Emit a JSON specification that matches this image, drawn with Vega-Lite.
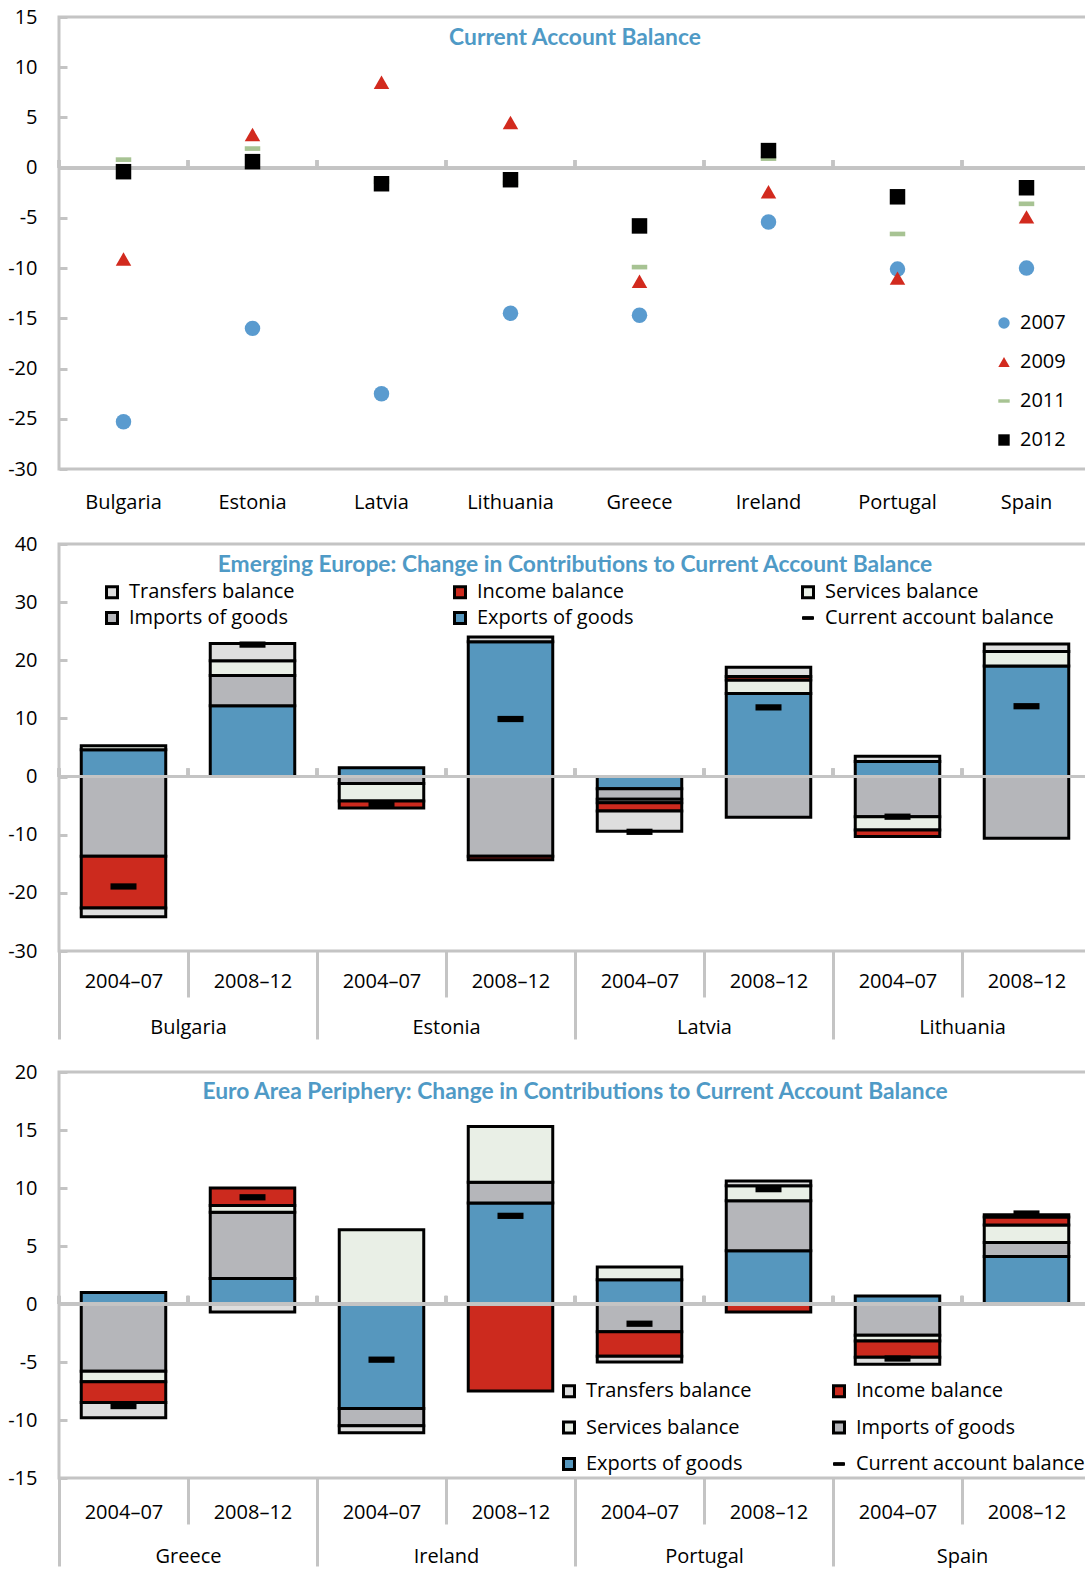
{
  "$schema": "https://vega.github.io/schema/vega-lite/v6.json",
  "padding": {"left": 6, "top": 5, "right": 0, "bottom": 0},
  "spacing": 18,
  "datasets": {
    "balance": [
      {"country": "Bulgaria", "year": "2007", "value": -25.3},
      {"country": "Estonia", "year": "2007", "value": -16.0},
      {"country": "Latvia", "year": "2007", "value": -22.5},
      {"country": "Lithuania", "year": "2007", "value": -14.5},
      {"country": "Greece", "year": "2007", "value": -14.7},
      {"country": "Ireland", "year": "2007", "value": -5.4},
      {"country": "Portugal", "year": "2007", "value": -10.1},
      {"country": "Spain", "year": "2007", "value": -10.0},
      {"country": "Bulgaria", "year": "2009", "value": -9.1},
      {"country": "Estonia", "year": "2009", "value": 3.3},
      {"country": "Latvia", "year": "2009", "value": 8.5},
      {"country": "Lithuania", "year": "2009", "value": 4.5},
      {"country": "Greece", "year": "2009", "value": -11.3},
      {"country": "Ireland", "year": "2009", "value": -2.4},
      {"country": "Portugal", "year": "2009", "value": -11.0},
      {"country": "Spain", "year": "2009", "value": -4.9},
      {"country": "Bulgaria", "year": "2011", "value": 0.8},
      {"country": "Estonia", "year": "2011", "value": 1.9},
      {"country": "Latvia", "year": "2011", "value": -1.4},
      {"country": "Lithuania", "year": "2011", "value": -1.5},
      {"country": "Greece", "year": "2011", "value": -9.9},
      {"country": "Ireland", "year": "2011", "value": 0.9},
      {"country": "Portugal", "year": "2011", "value": -6.6},
      {"country": "Spain", "year": "2011", "value": -3.6},
      {"country": "Bulgaria", "year": "2012", "value": -0.4},
      {"country": "Estonia", "year": "2012", "value": 0.6},
      {"country": "Latvia", "year": "2012", "value": -1.6},
      {"country": "Lithuania", "year": "2012", "value": -1.2},
      {"country": "Greece", "year": "2012", "value": -5.8},
      {"country": "Ireland", "year": "2012", "value": 1.7},
      {"country": "Portugal", "year": "2012", "value": -2.9},
      {"country": "Spain", "year": "2012", "value": -2.0}
    ],
    "emerging": [
      {"bar": "Bulgaria 2004–07", "country": "Bulgaria", "component": "Exports of goods", "value": 4.6},
      {"bar": "Bulgaria 2004–07", "country": "Bulgaria", "component": "Imports of goods", "value": -13.7},
      {"bar": "Bulgaria 2004–07", "country": "Bulgaria", "component": "Services balance", "value": 0.7},
      {"bar": "Bulgaria 2004–07", "country": "Bulgaria", "component": "Income balance", "value": -8.9},
      {"bar": "Bulgaria 2004–07", "country": "Bulgaria", "component": "Transfers balance", "value": -1.5},
      {"bar": "Bulgaria 2004–07", "country": "Bulgaria", "component": "Current account balance", "value": -18.9},
      {"bar": "Bulgaria 2008–12", "country": "Bulgaria", "component": "Exports of goods", "value": 12.2},
      {"bar": "Bulgaria 2008–12", "country": "Bulgaria", "component": "Imports of goods", "value": 5.2},
      {"bar": "Bulgaria 2008–12", "country": "Bulgaria", "component": "Services balance", "value": 2.5},
      {"bar": "Bulgaria 2008–12", "country": "Bulgaria", "component": "Transfers balance", "value": 3.0},
      {"bar": "Bulgaria 2008–12", "country": "Bulgaria", "component": "Current account balance", "value": 22.7},
      {"bar": "Estonia 2004–07", "country": "Estonia", "component": "Exports of goods", "value": 1.5},
      {"bar": "Estonia 2004–07", "country": "Estonia", "component": "Imports of goods", "value": -1.2},
      {"bar": "Estonia 2004–07", "country": "Estonia", "component": "Services balance", "value": -3.0},
      {"bar": "Estonia 2004–07", "country": "Estonia", "component": "Income balance", "value": -1.2},
      {"bar": "Estonia 2004–07", "country": "Estonia", "component": "Current account balance", "value": -4.8},
      {"bar": "Estonia 2008–12", "country": "Estonia", "component": "Exports of goods", "value": 23.2},
      {"bar": "Estonia 2008–12", "country": "Estonia", "component": "Imports of goods", "value": -13.7},
      {"bar": "Estonia 2008–12", "country": "Estonia", "component": "Income balance", "value": -0.6},
      {"bar": "Estonia 2008–12", "country": "Estonia", "component": "Transfers balance", "value": 0.8},
      {"bar": "Estonia 2008–12", "country": "Estonia", "component": "Current account balance", "value": 9.9},
      {"bar": "Latvia 2004–07", "country": "Latvia", "component": "Exports of goods", "value": -2.1},
      {"bar": "Latvia 2004–07", "country": "Latvia", "component": "Imports of goods", "value": -1.8},
      {"bar": "Latvia 2004–07", "country": "Latvia", "component": "Services balance", "value": -0.6},
      {"bar": "Latvia 2004–07", "country": "Latvia", "component": "Income balance", "value": -1.4},
      {"bar": "Latvia 2004–07", "country": "Latvia", "component": "Transfers balance", "value": -3.5},
      {"bar": "Latvia 2004–07", "country": "Latvia", "component": "Current account balance", "value": -9.5},
      {"bar": "Latvia 2008–12", "country": "Latvia", "component": "Exports of goods", "value": 14.3},
      {"bar": "Latvia 2008–12", "country": "Latvia", "component": "Imports of goods", "value": -7.0},
      {"bar": "Latvia 2008–12", "country": "Latvia", "component": "Services balance", "value": 2.3},
      {"bar": "Latvia 2008–12", "country": "Latvia", "component": "Income balance", "value": 0.6},
      {"bar": "Latvia 2008–12", "country": "Latvia", "component": "Transfers balance", "value": 1.6},
      {"bar": "Latvia 2008–12", "country": "Latvia", "component": "Current account balance", "value": 11.9},
      {"bar": "Lithuania 2004–07", "country": "Lithuania", "component": "Exports of goods", "value": 2.6},
      {"bar": "Lithuania 2004–07", "country": "Lithuania", "component": "Imports of goods", "value": -6.9},
      {"bar": "Lithuania 2004–07", "country": "Lithuania", "component": "Services balance", "value": -2.3},
      {"bar": "Lithuania 2004–07", "country": "Lithuania", "component": "Income balance", "value": -1.1},
      {"bar": "Lithuania 2004–07", "country": "Lithuania", "component": "Transfers balance", "value": 0.9},
      {"bar": "Lithuania 2004–07", "country": "Lithuania", "component": "Current account balance", "value": -6.9},
      {"bar": "Lithuania 2008–12", "country": "Lithuania", "component": "Exports of goods", "value": 19.0},
      {"bar": "Lithuania 2008–12", "country": "Lithuania", "component": "Imports of goods", "value": -10.6},
      {"bar": "Lithuania 2008–12", "country": "Lithuania", "component": "Services balance", "value": 2.5},
      {"bar": "Lithuania 2008–12", "country": "Lithuania", "component": "Transfers balance", "value": 1.3},
      {"bar": "Lithuania 2008–12", "country": "Lithuania", "component": "Current account balance", "value": 12.1}
    ],
    "periphery": [
      {"bar": "Greece 2004–07", "country": "Greece", "component": "Exports of goods", "value": 1.0},
      {"bar": "Greece 2004–07", "country": "Greece", "component": "Imports of goods", "value": -5.8},
      {"bar": "Greece 2004–07", "country": "Greece", "component": "Services balance", "value": -0.9},
      {"bar": "Greece 2004–07", "country": "Greece", "component": "Income balance", "value": -1.8},
      {"bar": "Greece 2004–07", "country": "Greece", "component": "Transfers balance", "value": -1.3},
      {"bar": "Greece 2004–07", "country": "Greece", "component": "Current account balance", "value": -8.8},
      {"bar": "Greece 2008–12", "country": "Greece", "component": "Exports of goods", "value": 2.2},
      {"bar": "Greece 2008–12", "country": "Greece", "component": "Imports of goods", "value": 5.7},
      {"bar": "Greece 2008–12", "country": "Greece", "component": "Services balance", "value": 0.6},
      {"bar": "Greece 2008–12", "country": "Greece", "component": "Income balance", "value": 1.5},
      {"bar": "Greece 2008–12", "country": "Greece", "component": "Transfers balance", "value": -0.7},
      {"bar": "Greece 2008–12", "country": "Greece", "component": "Current account balance", "value": 9.2},
      {"bar": "Ireland 2004–07", "country": "Ireland", "component": "Exports of goods", "value": -9.0},
      {"bar": "Ireland 2004–07", "country": "Ireland", "component": "Imports of goods", "value": -1.5},
      {"bar": "Ireland 2004–07", "country": "Ireland", "component": "Services balance", "value": 6.4},
      {"bar": "Ireland 2004–07", "country": "Ireland", "component": "Transfers balance", "value": -0.6},
      {"bar": "Ireland 2004–07", "country": "Ireland", "component": "Current account balance", "value": -4.8},
      {"bar": "Ireland 2008–12", "country": "Ireland", "component": "Exports of goods", "value": 8.7},
      {"bar": "Ireland 2008–12", "country": "Ireland", "component": "Imports of goods", "value": 1.8},
      {"bar": "Ireland 2008–12", "country": "Ireland", "component": "Services balance", "value": 4.8},
      {"bar": "Ireland 2008–12", "country": "Ireland", "component": "Income balance", "value": -7.5},
      {"bar": "Ireland 2008–12", "country": "Ireland", "component": "Current account balance", "value": 7.6},
      {"bar": "Portugal 2004–07", "country": "Portugal", "component": "Exports of goods", "value": 2.1},
      {"bar": "Portugal 2004–07", "country": "Portugal", "component": "Imports of goods", "value": -2.4},
      {"bar": "Portugal 2004–07", "country": "Portugal", "component": "Services balance", "value": 1.1},
      {"bar": "Portugal 2004–07", "country": "Portugal", "component": "Income balance", "value": -2.1},
      {"bar": "Portugal 2004–07", "country": "Portugal", "component": "Transfers balance", "value": -0.5},
      {"bar": "Portugal 2004–07", "country": "Portugal", "component": "Current account balance", "value": -1.7},
      {"bar": "Portugal 2008–12", "country": "Portugal", "component": "Exports of goods", "value": 4.6},
      {"bar": "Portugal 2008–12", "country": "Portugal", "component": "Imports of goods", "value": 4.3},
      {"bar": "Portugal 2008–12", "country": "Portugal", "component": "Services balance", "value": 1.3},
      {"bar": "Portugal 2008–12", "country": "Portugal", "component": "Income balance", "value": -0.7},
      {"bar": "Portugal 2008–12", "country": "Portugal", "component": "Transfers balance", "value": 0.4},
      {"bar": "Portugal 2008–12", "country": "Portugal", "component": "Current account balance", "value": 9.9},
      {"bar": "Spain 2004–07", "country": "Spain", "component": "Exports of goods", "value": 0.7},
      {"bar": "Spain 2004–07", "country": "Spain", "component": "Imports of goods", "value": -2.7},
      {"bar": "Spain 2004–07", "country": "Spain", "component": "Services balance", "value": -0.5},
      {"bar": "Spain 2004–07", "country": "Spain", "component": "Income balance", "value": -1.4},
      {"bar": "Spain 2004–07", "country": "Spain", "component": "Transfers balance", "value": -0.6},
      {"bar": "Spain 2004–07", "country": "Spain", "component": "Current account balance", "value": -4.7},
      {"bar": "Spain 2008–12", "country": "Spain", "component": "Exports of goods", "value": 4.1},
      {"bar": "Spain 2008–12", "country": "Spain", "component": "Imports of goods", "value": 1.2},
      {"bar": "Spain 2008–12", "country": "Spain", "component": "Services balance", "value": 1.5},
      {"bar": "Spain 2008–12", "country": "Spain", "component": "Income balance", "value": 0.7},
      {"bar": "Spain 2008–12", "country": "Spain", "component": "Transfers balance", "value": 0.2},
      {"bar": "Spain 2008–12", "country": "Spain", "component": "Current account balance", "value": 7.8}
    ],
    "stackOrder": [
      {"component": "Exports of goods", "rank": 1},
      {"component": "Imports of goods", "rank": 2},
      {"component": "Services balance", "rank": 3},
      {"component": "Income balance", "rank": 4},
      {"component": "Transfers balance", "rank": 5}
    ]
  },
  "vconcat": [
    {
      "width": 1032,
      "height": 452,
      "title": {"text": "Current Account Balance", "offset": -54, "baseline": "middle"},
      "data": {"name": "balance"},
      "layer": [
        {
          "mark": {"type": "rule", "color": "#C4C4C4", "strokeWidth": 3},
          "encoding": {"y": {"datum": 0, "type": "quantitative"}}
        },
        {
          "mark": {"type": "rule", "color": "#C4C4C4", "strokeWidth": 3},
          "encoding": {
            "x": {"field": "country", "type": "nominal", "sort": null, "bandPosition": 0},
            "y": {"datum": 0, "type": "quantitative"},
            "y2": {"datum": 0.75}
          }
        },
        {
          "mark": {"type": "point", "filled": true, "opacity": 1, "size": 240, "strokeWidth": 0},
          "encoding": {
            "x": {
              "field": "country", "type": "nominal", "sort": null,
              "scale": {"type": "band", "paddingInner": 0, "paddingOuter": 0},
              "axis": {"orient": "bottom", "ticks": false, "bandPosition": 0.5, "labelAlign": "center", "labelPadding": 33, "labelAngle": 0}
            },
            "y": {
              "field": "value", "type": "quantitative",
              "scale": {"domain": [-30, 15], "nice": false, "zero": false},
              "axis": {"values": [-30, -25, -20, -15, -10, -5, 0, 5, 10, 15], "labelExpr": "datum.value + ''"}
            },
            "color": {
              "field": "year", "type": "nominal",
              "scale": {"domain": ["2007", "2009", "2011", "2012"], "range": ["#5A9BCF", "#D22A1E", "#A7C393", "#000000"]},
              "legend": {"orient": "none", "legendX": 935, "legendY": 296, "rowPadding": 19, "symbolSize": 130, "labelOffset": 6}
            },
            "shape": {
              "field": "year", "type": "nominal",
              "scale": {"domain": ["2007", "2009", "2011", "2012"], "range": ["circle", "triangle-up", "M-1,-0.3H1V0.3H-1Z", "square"]},
              "legend": {"orient": "none", "legendX": 935, "legendY": 296, "rowPadding": 19, "symbolSize": 130, "labelOffset": 6}
            }
          }
        }
      ]
    },
    {
      "width": 1032,
      "height": 407,
      "title": {"text": "Emerging Europe: Change in Contributions to Current Account Balance", "offset": -54, "baseline": "middle"},
      "data": {"name": "emerging"},
      "layer": [
        {
          "layer": [
            {
              "transform": [
                {"filter": "datum.component !== 'Current account balance'"},
                {"lookup": "component", "from": {"data": {"name": "stackOrder"}, "key": "component", "fields": ["rank"]}}
              ],
              "mark": {"type": "bar", "stroke": "#000000", "strokeWidth": 3, "width": {"band": 0.655}},
              "encoding": {
                "x": {
                  "field": "bar", "type": "nominal", "sort": null,
                  "scale": {"type": "band", "paddingInner": 0, "paddingOuter": 0},
                  "axis": {"orient": "bottom", "tickBand": "extent", "tickSize": 46, "labelPadding": -26, "labelAngle": 0, "labelExpr": "slice(datum.label, -7)"}
                },
                "y": {
                  "field": "value", "type": "quantitative", "stack": "zero",
                  "scale": {"domain": [-30, 40], "nice": false, "zero": false},
                  "axis": {"values": [-30, -20, -10, 0, 10, 20, 30, 40], "labelExpr": "datum.value + ''"}
                },
                "fill": {
                  "field": "component", "type": "nominal",
                  "scale": {
                    "domain": ["Transfers balance", "Imports of goods", "Income balance", "Exports of goods", "Services balance", "Current account balance"],
                    "range": ["#DEDEDE", "#B5B6BA", "#CC2A1E", "#5697BE", "#E9EFE6", "#000000"]
                  },
                  "legend": {"orient": "none", "legendX": 43, "legendY": 38, "columns": 3, "gridAlign": "all", "columnPadding": 90, "rowPadding": 2, "symbolSize": 121, "symbolStrokeColor": "#000000", "symbolStrokeWidth": 3, "labelOffset": 7, "encode": {"symbols": {"update": {"stroke": {"value": "#000000"}, "strokeWidth": {"signal": "datum.value === 'Current account balance' ? 1 : 3"}}}}}
                },
                "order": {"field": "rank", "sort": "ascending"}
              }
            },
            {
              "mark": {"type": "rule", "color": "#C4C4C4", "strokeWidth": 3},
              "encoding": {"y": {"datum": 0, "type": "quantitative"}}
            },
            {
              "mark": {"type": "rule", "color": "#C4C4C4", "strokeWidth": 3},
              "encoding": {
                "x": {"field": "bar", "type": "nominal", "sort": null, "bandPosition": 0},
                "y": {"datum": 0, "type": "quantitative"},
                "y2": {"datum": 1.4}
              }
            },
            {
              "transform": [{"filter": "datum.component === 'Current account balance'"}],
              "mark": {"type": "point", "filled": true, "opacity": 1, "size": 676, "strokeWidth": 0},
              "encoding": {
                "x": {"field": "bar", "type": "nominal", "sort": null},
                "y": {"field": "value", "type": "quantitative", "stack": null},
                "fill": {"field": "component", "type": "nominal"},
                "shape": {
                  "field": "component", "type": "nominal",
                  "scale": {
                    "domain": ["Transfers balance", "Imports of goods", "Income balance", "Exports of goods", "Services balance", "Current account balance"],
                    "range": ["square", "square", "square", "square", "square", "M-1,-0.24H1V0.24H-1Z"]
                  },
                  "legend": {"orient": "none", "legendX": 43, "legendY": 38, "columns": 3, "gridAlign": "all", "columnPadding": 90, "rowPadding": 2, "symbolSize": 121, "symbolStrokeColor": "#000000", "symbolStrokeWidth": 3, "labelOffset": 7, "encode": {"symbols": {"update": {"stroke": {"value": "#000000"}, "strokeWidth": {"signal": "datum.value === 'Current account balance' ? 1 : 3"}}}}}
                }
              }
            }
          ]
        },
        {
          "mark": {"type": "tick", "opacity": 0},
          "encoding": {
            "x": {
              "field": "country", "type": "nominal", "sort": null,
              "scale": {"type": "band", "paddingInner": 0, "paddingOuter": 0},
              "axis": {"orient": "bottom", "tickBand": "extent", "tickSize": 88, "labelPadding": -22, "labelAngle": 0}
            },
            "y": {"datum": 0, "type": "quantitative"}
          }
        }
      ],
      "resolve": {"scale": {"x": "independent"}}
    },
    {
      "width": 1032,
      "height": 406,
      "title": {"text": "Euro Area Periphery: Change in Contributions to Current Account Balance", "offset": -53, "baseline": "middle"},
      "data": {"name": "periphery"},
      "layer": [
        {
          "layer": [
            {
              "transform": [
                {"filter": "datum.component !== 'Current account balance'"},
                {"lookup": "component", "from": {"data": {"name": "stackOrder"}, "key": "component", "fields": ["rank"]}}
              ],
              "mark": {"type": "bar", "stroke": "#000000", "strokeWidth": 3, "width": {"band": 0.655}},
              "encoding": {
                "x": {
                  "field": "bar", "type": "nominal", "sort": null,
                  "scale": {"type": "band", "paddingInner": 0, "paddingOuter": 0},
                  "axis": {"orient": "bottom", "tickBand": "extent", "tickSize": 46, "labelPadding": -22, "labelAngle": 0, "labelExpr": "slice(datum.label, -7)"}
                },
                "y": {
                  "field": "value", "type": "quantitative", "stack": "zero",
                  "scale": {"domain": [-15, 20], "nice": false, "zero": false},
                  "axis": {"values": [-15, -10, -5, 0, 5, 10, 15, 20], "labelExpr": "datum.value + ''"}
                },
                "fill": {
                  "field": "component", "type": "nominal",
                  "scale": {
                    "domain": ["Transfers balance", "Services balance", "Exports of goods", "Income balance", "Imports of goods", "Current account balance"],
                    "range": ["#DEDEDE", "#E9EFE6", "#5697BE", "#CC2A1E", "#B5B6BA", "#000000"]
                  },
                  "legend": {"orient": "none", "legendX": 500, "legendY": 309, "columns": 2, "gridAlign": "all", "columnPadding": 12, "rowPadding": 12.5, "symbolSize": 121, "symbolStrokeColor": "#000000", "symbolStrokeWidth": 3, "labelOffset": 7, "encode": {"symbols": {"update": {"stroke": {"value": "#000000"}, "strokeWidth": {"signal": "datum.value === 'Current account balance' ? 1 : 3"}}}}}
                },
                "order": {"field": "rank", "sort": "ascending"}
              }
            },
            {
              "mark": {"type": "rule", "color": "#C4C4C4", "strokeWidth": 3},
              "encoding": {"y": {"datum": 0, "type": "quantitative"}}
            },
            {
              "mark": {"type": "rule", "color": "#C4C4C4", "strokeWidth": 3},
              "encoding": {
                "x": {"field": "bar", "type": "nominal", "sort": null, "bandPosition": 0},
                "y": {"datum": 0, "type": "quantitative"},
                "y2": {"datum": 0.7}
              }
            },
            {
              "transform": [{"filter": "datum.component === 'Current account balance'"}],
              "mark": {"type": "point", "filled": true, "opacity": 1, "size": 676, "strokeWidth": 0},
              "encoding": {
                "x": {"field": "bar", "type": "nominal", "sort": null},
                "y": {"field": "value", "type": "quantitative", "stack": null},
                "fill": {"field": "component", "type": "nominal"},
                "shape": {
                  "field": "component", "type": "nominal",
                  "scale": {
                    "domain": ["Transfers balance", "Services balance", "Exports of goods", "Income balance", "Imports of goods", "Current account balance"],
                    "range": ["square", "square", "square", "square", "square", "M-1,-0.24H1V0.24H-1Z"]
                  },
                  "legend": {"orient": "none", "legendX": 500, "legendY": 309, "columns": 2, "gridAlign": "all", "columnPadding": 12, "rowPadding": 12.5, "symbolSize": 121, "symbolStrokeColor": "#000000", "symbolStrokeWidth": 3, "labelOffset": 7, "encode": {"symbols": {"update": {"stroke": {"value": "#000000"}, "strokeWidth": {"signal": "datum.value === 'Current account balance' ? 1 : 3"}}}}}
                }
              }
            }
          ]
        },
        {
          "mark": {"type": "tick", "opacity": 0},
          "encoding": {
            "x": {
              "field": "country", "type": "nominal", "sort": null,
              "scale": {"type": "band", "paddingInner": 0, "paddingOuter": 0},
              "axis": {"orient": "bottom", "tickBand": "extent", "tickSize": 88, "labelPadding": -20, "labelAngle": 0}
            },
            "y": {"datum": 0, "type": "quantitative"}
          }
        }
      ],
      "resolve": {"scale": {"x": "independent"}}
    }
  ],
  "resolve": {
    "scale": {"x": "independent", "y": "independent", "color": "independent", "fill": "independent", "shape": "independent"},
    "legend": {"color": "independent", "fill": "independent", "shape": "independent"}
  },
  "config": {
    "font": "Open Sans",
    "view": {"stroke": "#C4C4C4", "strokeWidth": 3},
    "axis": {
      "labelFont": "Open Sans", "labelFontSize": 20, "labelColor": "#000000",
      "grid": false, "domain": false, "title": null,
      "tickColor": "#C4C4C4", "tickWidth": 3
    },
    "axisY": {"offset": -8, "tickSize": 8, "labelPadding": 22, "minExtent": 54, "maxExtent": 54},
    "legend": {"title": null, "labelFont": "Open Sans", "labelFontSize": 20, "labelColor": "#000000", "labelLimit": 400},
    "title": {"font": "Lato", "fontSize": 22.8, "fontWeight": "bold", "color": "#4F9AC6", "anchor": "middle"}
  }
}
